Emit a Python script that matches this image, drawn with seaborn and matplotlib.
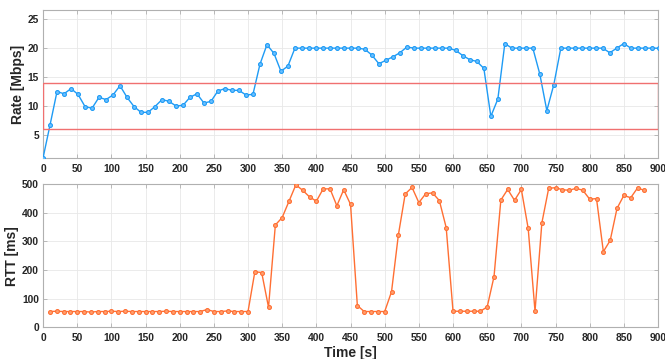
import numpy as np
import pandas as pd
import matplotlib
matplotlib.use('Agg')
import matplotlib.pyplot as plt
import seaborn as sns

# Datos
rate_t = np.arange(89) * 10.24
rate_mbps = [1.0, 6.7, 12.5, 12.1, 13.0, 12.0, 9.9, 9.6, 11.5, 11.1,
             11.9, 13.5, 11.5, 9.9, 8.9, 8.9, 9.9, 11.1, 10.8, 10.0,
             10.1, 11.5, 12.1, 10.5, 10.8, 12.6, 13.0, 12.7, 12.7, 11.9,
             12.0, 17.2, 20.6, 19.1, 16.0, 16.9, 20.0, 20.0, 20.0, 20.0,
             20.0, 20.0, 20.0, 20.0, 20.0, 20.0, 19.8, 18.8, 17.3, 17.9,
             18.5, 19.2, 20.2, 20.0, 20.0, 20.0, 20.0, 20.0, 20.0, 19.6,
             18.7, 18.0, 17.7, 16.5, 8.2, 11.2, 20.8, 20.0, 20.0, 20.0,
             20.0, 15.5, 9.2, 13.7, 20.0, 20.0, 20.0, 20.0, 20.0, 20.0,
             20.0, 19.2, 20.0, 20.8, 20.0, 20.0, 20.0, 20.0, 20.0]

rtt_t = np.arange(10, 890, 10)
rtt_ms = [55, 56, 55, 55, 55, 55, 53, 55, 55, 56,
          55, 56, 55, 55, 55, 55, 55, 56, 55, 55,
          55, 55, 55, 62, 55, 55, 57, 55, 55, 55,
          194, 191, 70, 357, 383, 440, 497, 478, 455, 440,
          483, 483, 424, 480, 429, 76, 55, 55, 55, 55,
          124, 322, 465, 488, 435, 466, 469, 442, 348, 56,
          56, 56, 56, 56, 71, 177, 444, 481, 443, 481,
          345, 56, 364, 485, 487, 480, 478, 485, 478, 447,
          449, 264, 303, 415, 460, 452, 486, 478]

limit_low = 6
limit_high = 14

blue = '#1e9bf5'
orange = '#ff6f33'

sns.set_style('whitegrid')
plt.rcParams['font.family'] = ['Liberation Sans', 'DejaVu Sans']

fig = plt.figure(figsize=(6.65, 3.59), dpi=100)
ax1 = fig.add_axes([0.0647, 0.5599, 0.9248, 0.4123])
ax2 = fig.add_axes([0.0647, 0.0883, 0.9248, 0.3992])

df_rate = pd.DataFrame({'t': rate_t, 'rate': rate_mbps})
df_rtt = pd.DataFrame({'t': rtt_t, 'rtt': rtt_ms})

# Caja roja del rango objetivo
ax1.add_patch(plt.Rectangle((0.5, limit_low), 899, limit_high - limit_low,
                            fill=False, edgecolor='#f07070', lw=1.0, zorder=4))

sns.lineplot(data=df_rate, x='t', y='rate', ax=ax1, color=blue, lw=1.0,
             marker='o', markersize=2.8, markeredgecolor=blue,
             markerfacecolor='#6cc0ff', markeredgewidth=0.8, zorder=3)
sns.lineplot(data=df_rtt, x='t', y='rtt', ax=ax2, color=orange, lw=1.0,
             marker='o', markersize=2.8, markeredgecolor=orange,
             markerfacecolor='#ffa070', markeredgewidth=0.8, zorder=3)

ax1.set_xlim(0, 900)
ax1.set_ylim(1, 26.6)
ax1.set_yticks([5, 10, 15, 20, 25])
ax2.set_xlim(0, 900)
ax2.set_ylim(0, 500)
ax2.set_yticks([0, 100, 200, 300, 400, 500])

for ax in (ax1, ax2):
    ax.set_xticks(np.arange(0, 901, 50))
    ax.grid(True, color='#e8e8e8', lw=0.6)
    ax.tick_params(axis='both', which='both', direction='in', length=3,
                   width=0.6, color='#b0b0b0', labelsize=7.4,
                   labelcolor='#262626', pad=4, right=True, top=True,
                   bottom=True, left=True)
    ax.tick_params(axis='y', pad=3)
    for lab in ax.get_xticklabels() + ax.get_yticklabels():
        lab.set_fontweight('bold')
    for sp in ax.spines.values():
        sp.set_color('#b0b0b0')
        sp.set_linewidth(0.8)
    ax.set_xlabel('')

ax1.set_ylabel('Rate [Mbps]', fontsize=10, fontweight='bold', labelpad=2)
ax2.set_ylabel('RTT [ms]', fontsize=10, fontweight='bold', labelpad=2)
ax2.set_xlabel('Time [s]', fontsize=10, fontweight='bold', labelpad=2)

fig.savefig('out.png', dpi=100)
